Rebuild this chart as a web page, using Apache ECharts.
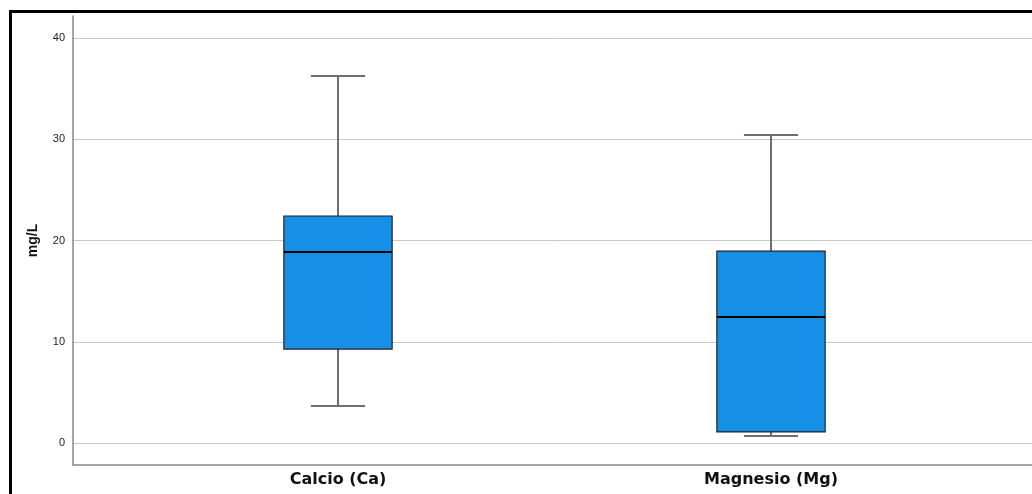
<!DOCTYPE html>
<html><head><meta charset="utf-8">
<script src="https://cdn.jsdelivr.net/npm/echarts@6/dist/echarts.min.js"></script>
<style>html,body{margin:0;padding:0;background:#fff}#c{width:1032px;height:494px}</style>
</head><body><div id="c"></div>
<script>
const categories = ['Calcio (Ca)', 'Magnesio (Mg)'];
const whiskerLow = [3.65, 0.69];
const q1 = [9.28, 1.09];
const median = [18.86, 12.44];
const q3 = [22.42, 18.96];
const whiskerHigh = [36.25, 30.42];
const yTicks = [0, 10, 20, 30, 40];

const data = categories.map((c, i) => [i, whiskerLow[i], q1[i], median[i], q3[i], whiskerHigh[i]]);

const chart = echarts.init(document.getElementById('c'));
chart.setOption({
  animation: false,
  graphic: [{
    type: 'rect', z: 100,
    shape: { x: 10.5, y: 11.5, width: 1200, height: 700 },
    style: { fill: 'none', stroke: '#000', lineWidth: 3 }
  }],
  grid: [
    { left: 73, right: 0, top: 16, bottom: 29 },
    { left: 73, right: 0, top: 38, bottom: 51 },
    { left: 121.5, right: 44.5, top: 38, bottom: 51 }
  ],
  xAxis: [
    { gridIndex: 0, type: 'value', min: 0, max: 1, axisLine: { show: true, onZero: false, lineStyle: { color: '#888', width: 1.5 } }, axisTick: { show: false }, axisLabel: { show: false }, splitLine: { show: false } },
    { gridIndex: 1, type: 'value', min: 0, max: 1, show: false },
    { gridIndex: 2, type: 'category', data: categories, axisLine: { show: false }, axisTick: { show: false },
      axisLabel: { margin: 29, fontFamily: 'DejaVu Sans, sans-serif', fontWeight: 'bold', fontSize: 16, color: '#111' } }
  ],
  yAxis: [
    { gridIndex: 0, type: 'value', min: -2.17, max: 42.17, axisLine: { show: true, lineStyle: { color: '#888', width: 1.5 } }, axisTick: { show: false }, axisLabel: { show: false }, splitLine: { show: false } },
    { gridIndex: 1, type: 'value', min: 0, max: 40, interval: 10, axisLine: { show: false }, axisTick: { show: false },
      axisLabel: { margin: 8, fontFamily: 'Liberation Sans, Arial, sans-serif', fontSize: 11, color: '#222', formatter: v => yTicks.includes(v) ? String(v) : '' },
      splitLine: { lineStyle: { color: '#c8c8c8', width: 1 } },
      name: 'mg/L', nameLocation: 'middle', nameGap: 33,
      nameTextStyle: { fontFamily: 'Liberation Sans, Arial, sans-serif', fontWeight: 'bold', fontSize: 14, color: '#111' } },
    { gridIndex: 2, type: 'value', min: 0, max: 40, show: false }
  ],
  series: [{
    type: 'custom', xAxisIndex: 2, yAxisIndex: 2, data: data,
    encode: { x: 0, y: [1, 2, 3, 4, 5] },
    renderItem: function (params, api) {
      const x = api.value(0);
      const pLow = api.coord([x, api.value(1)]);
      const pQ1 = api.coord([x, api.value(2)]);
      const pMed = api.coord([x, api.value(3)]);
      const pQ3 = api.coord([x, api.value(4)]);
      const pHigh = api.coord([x, api.value(5)]);
      const band = api.size([1, 0])[0];
      const bw = band * 0.25;
      const cw = bw / 2;
      const cx = pMed[0];
      const gray = '#6e6e6e';
      return {
        type: 'group',
        children: [
          { type: 'line', shape: { x1: cx, y1: pHigh[1], x2: cx, y2: pQ3[1] }, style: { stroke: gray, lineWidth: 2 } },
          { type: 'line', shape: { x1: cx, y1: pQ1[1], x2: cx, y2: pLow[1] }, style: { stroke: gray, lineWidth: 2 } },
          { type: 'line', shape: { x1: cx - cw / 2, y1: pHigh[1], x2: cx + cw / 2, y2: pHigh[1] }, style: { stroke: gray, lineWidth: 2 } },
          { type: 'line', shape: { x1: cx - cw / 2, y1: pLow[1], x2: cx + cw / 2, y2: pLow[1] }, style: { stroke: gray, lineWidth: 2 } },
          { type: 'rect', shape: { x: cx - bw / 2, y: pQ3[1], width: bw, height: pQ1[1] - pQ3[1] }, style: { fill: '#1590e6', stroke: '#222', lineWidth: 1.2 } },
          { type: 'line', shape: { x1: cx - bw / 2, y1: pMed[1], x2: cx + bw / 2, y2: pMed[1] }, style: { stroke: '#000', lineWidth: 2 } }
        ]
      };
    }
  }]
});
</script></body></html>
